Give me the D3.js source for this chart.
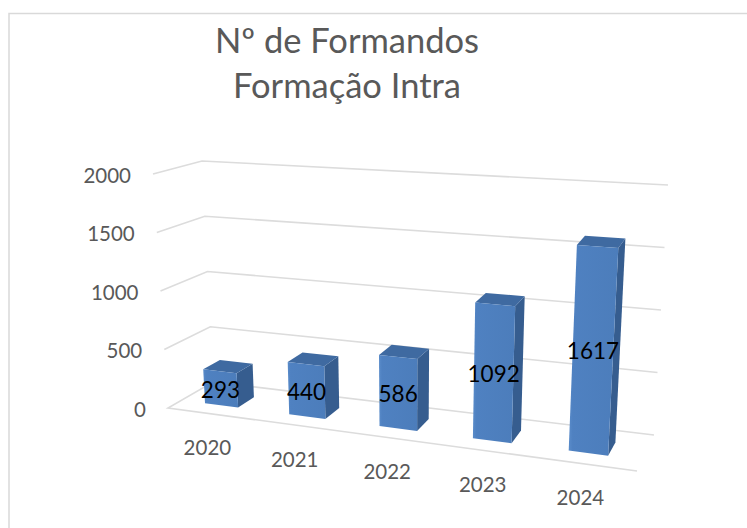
<!DOCTYPE html>
<html><head><meta charset="utf-8">
<style>html,body{margin:0;padding:0;background:#fff;overflow:hidden}svg{display:block}text{font-family:Lato,"Open Sans",sans-serif}</style>
<script src="https://cdnjs.cloudflare.com/ajax/libs/d3/7.8.5/d3.min.js"></script>
</head><body><svg id="c" width="747" height="528"></svg>
<script>
const categories = ["2020","2021","2022","2023","2024"];
const values = [293,440,586,1092,1617];
const yTicks = [0,500,1000,1500,2000];
const titleLines = ["Nº de Formandos","Formação Intra"];

// perspective frame of the 3-D plot: floor (value 0) and ceiling (value 2000) corners
const floorQuad = {fl:[168,408],fr:[637,471],br:[654,435],bl:[213,382]};
const ceilQuad  = {fl:[153,174],fr:[652,208],br:[668,185],bl:[202,161]};

const lerp=(a,b,t)=>a+(b-a)*t;
const bil=(q,u,d,k)=>lerp(lerp(q.fl[k],q.fr[k],u),lerp(q.bl[k],q.br[k],u),d);
const yS=d3.scaleLinear().domain([0,2000]).range([0,1]);
const xS=d3.scaleBand().domain(categories).range([0.005,0.99]).paddingInner(0.594).paddingOuter(0.297);
const warp=d3.scalePow().exponent(1.08).domain([0,1]).range([0,1]); // foreshortening along the category axis
const depth0=0.30, depth1=0.68;
function P(t,d,val){
  const u=warp(t), s=yS(val);
  return [lerp(bil(floorQuad,u,d,0),bil(ceilQuad,u,d,0),s),
          lerp(bil(floorQuad,u,d,1),bil(ceilQuad,u,d,1),s)];
}
const poly=pts=>pts.map(p=>p.map(n=>n.toFixed(1)).join(",")).join(" ");
const svg=d3.select("#c");
svg.append("rect").attr("x",9).attr("y",13.5).attr("width",800).attr("height",600)
  .attr("fill","#fff").attr("stroke","#d9d9d9").attr("stroke-width",1.5);

const defs=svg.append("defs");
const lg=defs.append("linearGradient").attr("id","front").attr("x1",0).attr("x2",1).attr("y1",0).attr("y2",0);
lg.append("stop").attr("offset",0).attr("stop-color","#5a8cca");
lg.append("stop").attr("offset",0.08).attr("stop-color","#4f81c1");
lg.append("stop").attr("offset",1).attr("stop-color","#4c7dbb");

// gridlines
yTicks.forEach(t=>{
  if(t>0) svg.append("polyline").attr("points",poly([P(0,0,t),P(0,1,t),P(1,1,t)]))
    .attr("fill","none").attr("stroke","#dcdcdc").attr("stroke-width",1.6);
});
svg.append("polyline").attr("points",poly([P(1,1,0),P(0,1,0),P(0,0,0),P(1,0,0)]))
  .attr("fill","none").attr("stroke","#dcdcdc").attr("stroke-width",1.6);

// y labels
yTicks.forEach(t=>{
  const p=P(0,0,t);
  svg.append("text").attr("x",p[0]-22).attr("y",p[1]+8.5).attr("text-anchor","end")
    .attr("font-size",20.5).attr("fill","#595959").text(t);
});

// bars
categories.forEach((c,i)=>{
  const u0=xS(c), u1=u0+xS.bandwidth(), v=values[i];
  const g=svg.append("g");
  g.append("polygon").attr("points",poly([P(u1,depth0,0),P(u1,depth1,0),P(u1,depth1,v),P(u1,depth0,v)])).attr("fill","#365d8f");
  g.append("polygon").attr("points",poly([P(u0,depth0,v),P(u1,depth0,v),P(u1,depth1,v),P(u0,depth1,v)])).attr("fill","#3f6aa1");
  g.append("polygon").attr("points",poly([P(u0,depth0,0),P(u1,depth0,0),P(u1,depth0,v),P(u0,depth0,v)])).attr("fill","url(#front)");
});

// category labels
const labelX=d3.scaleLinear().domain([0,1]).range([167,635]);
categories.forEach((c,i)=>{
  const t=xS(c)+xS.bandwidth()/2, p=P(t,0,0);
  svg.append("text").attr("x",labelX(warp(t))).attr("y",p[1]+41.5).attr("text-anchor","middle")
    .attr("font-size",20.5).attr("fill","#595959").text(c);
});

// data labels
categories.forEach((c,i)=>{
  const t=xS(c)+xS.bandwidth()/2, p=P(t,depth0,values[i]/2);
  svg.append("text").attr("x",p[0]).attr("y",p[1]+9.5).attr("text-anchor","middle")
    .attr("font-size",22.5).attr("fill","#000").text(values[i]);
});

// title
svg.selectAll(".t").data(titleLines).enter().append("text").attr("class","t")
  .attr("x",347).attr("y",(d,i)=>53+i*45).attr("text-anchor","middle")
  .attr("font-size",34.5).attr("fill","#595959").text(d=>d);
</script></body></html>
